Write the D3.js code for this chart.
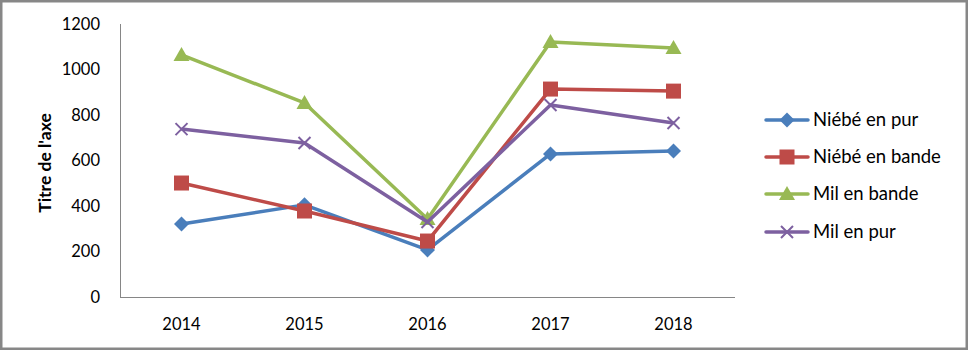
<!DOCTYPE html>
<html><head><meta charset="utf-8">
<script src="https://cdn.jsdelivr.net/npm/d3@7"></script>
<style>body{margin:0;background:#fff;}svg{display:block;}</style>
</head><body>
<svg id="c" width="968" height="350"></svg>
<script>
const categories = ["2014","2015","2016","2017","2018"];
const niebePur = [321, 405, 207, 629, 642];
const niebeBande = [501, 378, 246, 914, 905];
const milBande = [1064, 853, 343, 1121, 1095];
const milPur = [738, 677, 330, 844, 765];
const yTicks = [0,200,400,600,800,1000,1200];
const seriesNames = ["Niébé en pur","Niébé en bande","Mil en bande","Mil en pur"];
const colors = ["#4A7EBB","#BE4B48","#98B954","#7D60A0"];
const markers = ["diamond","square","triangle","x"];
const series = [niebePur, niebeBande, milBande, milPur].map((v,i)=>({name:seriesNames[i], values:v, color:colors[i], marker:markers[i]}));

const svg = d3.select("#c");
const font = "Lato, 'Open Sans', sans-serif";
svg.append("rect").attr("x",1.25).attr("y",1.25).attr("width",965.5).attr("height",347.5)
  .attr("fill","#fff").attr("stroke","#878787").attr("stroke-width",2.5);

const x = d3.scaleBand().domain(categories).range([120,735]);
const y = d3.scaleLinear().domain([0,1200]).range([297,24]);

// axes lines
svg.append("line").attr("x1",120.5).attr("x2",120.5).attr("y1",y(1200)).attr("y2",y(0)).attr("stroke","#868686").attr("stroke-width",1);
svg.append("line").attr("x1",120).attr("x2",735).attr("y1",y(0)+0.5).attr("y2",y(0)+0.5).attr("stroke","#868686").attr("stroke-width",1);

svg.selectAll(".yt").data(yTicks).enter().append("text")
  .attr("x",100).attr("y",d=>y(d)).attr("dy","0.35em").attr("text-anchor","end")
  .attr("font-family",font).attr("font-size",16.5).attr("fill","#000").text(d=>d);
svg.selectAll(".xt").data(categories).enter().append("text")
  .attr("x",d=>x(d)+x.bandwidth()/2).attr("y",324).attr("dy","0.35em").attr("text-anchor","middle")
  .attr("font-family",font).attr("font-size",16.5).attr("fill","#000").text(d=>d);

svg.append("text").attr("transform","translate(45,163) rotate(-90)").attr("text-anchor","middle").attr("dy","0.35em")
  .attr("font-family",font).attr("font-weight","bold").attr("font-size",17.5).text("Titre de l'axe");

function drawMarker(g, type, cx, cy, color){
  if(type==="diamond"){
    g.append("path").attr("d",`M${cx},${cy-7.5}L${cx+7.5},${cy}L${cx},${cy+7.5}L${cx-7.5},${cy}Z`).attr("fill",color);
  } else if(type==="square"){
    g.append("rect").attr("x",cx-7.5).attr("y",cy-7.5).attr("width",15).attr("height",15).attr("fill",color);
  } else if(type==="triangle"){
    g.append("path").attr("d",`M${cx},${cy-8}L${cx+8},${cy+6}L${cx-8},${cy+6}Z`).attr("fill",color);
  } else {
    g.append("path").attr("d",`M${cx-6},${cy-6}L${cx+6},${cy+6}M${cx-6},${cy+6}L${cx+6},${cy-6}`).attr("stroke",color).attr("stroke-width",2);
  }
}

const line = d3.line().x((d,i)=>x(categories[i])+x.bandwidth()/2).y(d=>y(d));
series.forEach(s=>{
  const g = svg.append("g");
  g.append("path").attr("d",line(s.values)).attr("fill","none").attr("stroke",s.color).attr("stroke-width",3.5).attr("stroke-linejoin","round");
  s.values.forEach((v,i)=>drawMarker(g,s.marker,x(categories[i])+x.bandwidth()/2,y(v),s.color));
});

// legend
const legY = [120,157,194,232];
series.forEach((s,i)=>{
  const g = svg.append("g");
  g.append("line").attr("x1",766).attr("x2",808).attr("y1",legY[i]).attr("y2",legY[i]).attr("stroke",s.color).attr("stroke-width",3.5).attr("stroke-linecap","round");
  drawMarker(g,s.marker,787,legY[i],s.color);
  g.append("text").attr("x",813).attr("y",legY[i]).attr("dy","0.35em").attr("font-family",font).attr("font-size",18.5).text(s.name);
});
</script>
</body></html>
